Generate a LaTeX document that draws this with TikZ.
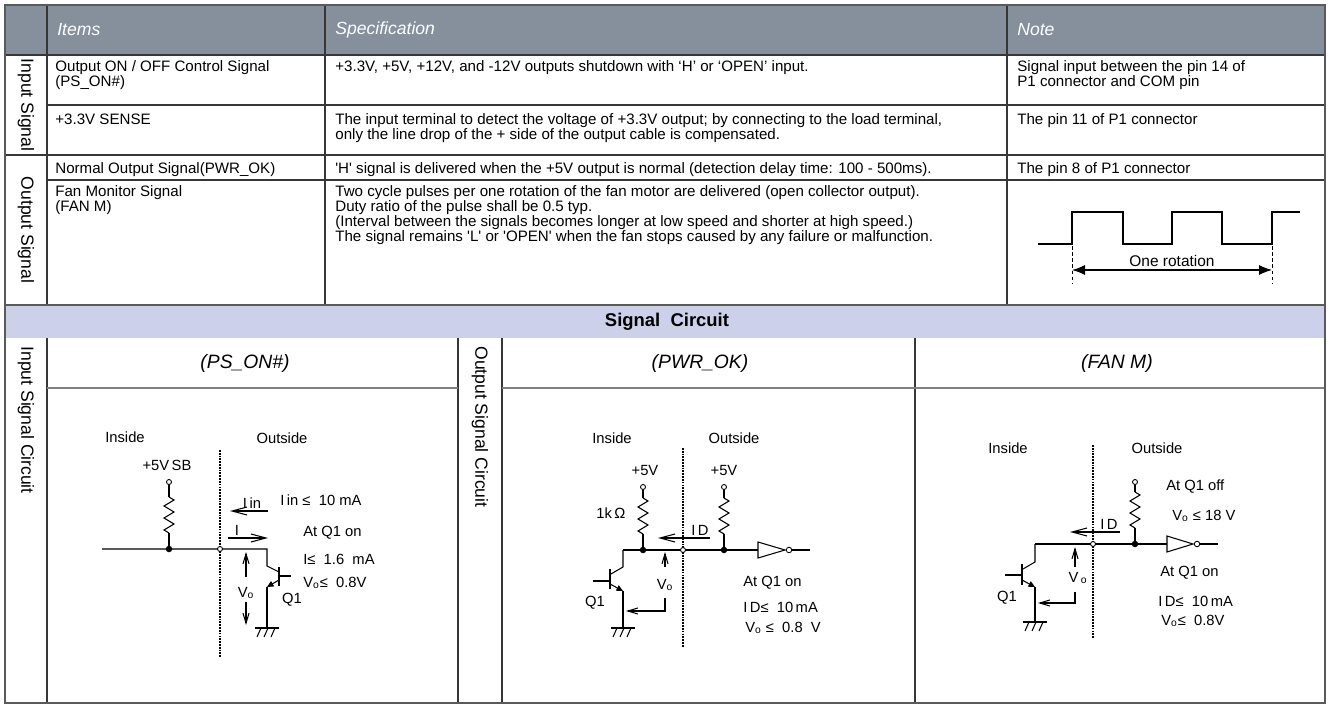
\documentclass[tikz,border=0pt]{standalone}
\usepackage{fontspec}
\setmainfont{Liberation Sans}
\usetikzlibrary{arrows.meta}
\definecolor{headgray}{RGB}{133,144,156}
\definecolor{bandblue}{RGB}{204,208,232}
\definecolor{linegray}{RGB}{55,55,55}
\definecolor{framegray}{RGB}{90,90,90}
\begin{document}
\begin{tikzpicture}[
  x=0.02cm, y=-0.02cm,
  rule/.style={draw=linegray, line width=0.6pt},
  lightrule/.style={draw=gray, line width=0.6pt},
  cell/.style={anchor=north west, inner sep=0pt, align=left, font=\fontsize{8.6}{8.5}\selectfont},
  head/.style={anchor=west, inner sep=0pt, text=white, font=\fontsize{10}{12}\selectfont\itshape},
  side/.style={rotate=-90, inner sep=0pt, font=\fontsize{10}{12}\selectfont},
  ctitle/.style={inner sep=0pt, font=\fontsize{11}{13}\selectfont\itshape},
  lbl/.style={inner sep=0pt, font=\fontsize{8.4}{10}\selectfont},
  note/.style={lbl, anchor=west},
  wire/.style={line width=0.6pt},
  bound/.style={line width=0.9pt, dash pattern=on 1pt off 0.6pt},
  term/.style={circle, draw, fill=white, line width=0.5pt, inner sep=0pt, minimum size=0.1cm},
  joint/.style={circle, fill, inner sep=0pt, minimum size=0.13cm},
  cur/.style={wire, -{Straight Barb[length=0.3cm, width=0.16cm]}},
  volt/.style={wire, -{Straight Barb[length=0.2cm, width=0.12cm]}},
  emit/.style={wire, -{Triangle[length=0.13cm, width=0.12cm]}},
  resistor/.pic={\draw[wire] (0,0) -- (5,3) -- (-5,9) -- (5,15) -- (-5,21) -- (5,27) -- (-5,33) -- (0,36);},
  ground/.pic={\draw[wire] (-12,0) -- (12,0);
    \foreach \h in {-6,1,8} \draw[wire] (\h,0) -- (\h-4,9);}
]
% page, bands and rules
\fill[white] (0,0) rectangle (1330,706);
\useasboundingbox (0,0) rectangle (1330,706);
\fill[headgray] (5,5) rectangle (1325,55);
\fill[bandblue] (5,305) rectangle (1325,338);
\draw[rule] (5,55) -- (1325,55) (5,155) -- (1325,155)
  (47,105) -- (1325,105) (47,180) -- (1325,180);
\draw[rule] (47,5) -- (47,305) (325,5) -- (325,305) (1007,5) -- (1007,305);
\draw[rule] (47,338) -- (47,703) (458,338) -- (458,703)
  (502,338) -- (502,703) (915,338) -- (915,703);
\draw[lightrule] (47,388) -- (458,388) (502,388) -- (1325,388);
\draw[draw=framegray, line width=1.1pt] (5,305) -- (1325,305);
\draw[draw=framegray, line width=1.1pt] (5,5) rectangle (1325,703);

% header
\node[head] (hItems) at (57,30) {Items};
\node[head] (hSpec) at (335,30) {Specification};
\node[head] (hNote) at (1017,30) {Note};

% side labels
\node[side] (sIn) at (26,105) {Input Signal};
\node[side] (sOut) at (26,230) {Output Signal};
\node[side, anchor=west] (sInC) at (26,346) {Input Signal Circuit};
\node[side, anchor=west] (sOutC) at (480,346) {Output Signal Circuit};

% table rows
\node[cell] (iPs) at (55,60.5) {Output ON / OFF Control Signal\\(PS\_ON\#)};
\node[cell] (sPs) at (335,60.5) {+3.3V, +5V, +12V, and -12V outputs shutdown with ‘H’ or ‘OPEN’ input.};
\node[cell] (nPs) at (1017,60.5) {Signal input between the pin 14 of\\P1 connector and COM pin};
\node[cell] (iSen) at (55,113.5) {+3.3V SENSE};
\node[cell] (sSen) at (335,113.5) {The input terminal to detect the voltage of +3.3V output; by connecting to the load terminal,\\only the line drop of the + side of the output cable is compensated.};
\node[cell] (nSen) at (1017,113.5) {The pin 11 of P1 connector};
\node[cell] (iPwr) at (55,162.5) {Normal Output Signal(PWR\_OK)};
\node[cell] (sPwr) at (335,162.5) {\textquotesingle H\textquotesingle{} signal is delivered when the +5V output is normal (detection delay time: 100 - 500ms).};
\node[cell] (nPwr) at (1017,162.5) {The pin 8 of P1 connector};
\node[cell] (iFan) at (55,185.5) {Fan Monitor Signal\\(FAN M)};
\node[cell] (sFan) at (335,185.5) {Two cycle pulses per one rotation of the fan motor are delivered (open collector output).\\Duty ratio of the pulse shall be 0.5 typ.\\(Interval between the signals becomes longer at low speed and shorter at high speed.)\\The signal remains \textquotesingle L\textquotesingle{} or \textquotesingle OPEN\textquotesingle{} when the fan stops caused by any failure or malfunction.};

% fan pulse train
\draw[line width=0.9pt] (1038,244) -- (1072,244) -- (1072,212) -- (1123,212) -- (1123,244)
  -- (1172,244) -- (1172,212) -- (1222,212) -- (1222,244) -- (1272,244) -- (1272,212) -- (1300,212);
\coordinate (rotA) at (1072,270);
\coordinate (rotB) at (1272,270);
\draw[line width=0.5pt, dash pattern=on 2pt off 1.5pt] (1072,246) -- (1072,284) (1272,246) -- (1272,284);
\draw[wire, {Latex[length=0.26cm,width=0.2cm]}-{Latex[length=0.26cm,width=0.2cm]}] (rotA) -- (rotB);
\node[lbl, font=\fontsize{8.8}{10}\selectfont] (rot) at (1172,261) {One rotation};

% band
\node[inner sep=0pt, font=\fontsize{10.5}{12}\selectfont\bfseries] (band) at (667,322) {Signal\ \ Circuit};

% (PS_ON#) circuit
\node[ctitle] (tPs) at (245,363) {(PS\_ON\#)};
\node[lbl] (psIn) at (125,437) {Inside};
\node[lbl] (psOut) at (282,438) {Outside};
\draw[bound] (220,450) -- (220,657);
\node[lbl] (psSup) at (167,465) {+5V\,SB};
\node[term] (psT) at (169,482) {};
\coordinate (psR) at (169,497);
\coordinate (psN) at (169,549);
\coordinate (psL) at (102,549);
\coordinate (psC) at (267,549);
\draw[wire] (psT) -- (psR);
\pic at (psR) {resistor};
\draw[wire] (169,533) -- (psN);
\draw[wire] (psL) -- (psC) -- (267,566) -- (279,572);
\draw[wire] (279,567) -- (279,586) (279,576) -- (291,576);
\draw[emit] (279,580) -- (267,587);
\draw[wire] (267,587) -- (267,628);
\pic at (267,628) {ground};
\node[joint] (psJ) at (psN) {};
\node[term] (psO) at (220,549) {};
\draw[cur] (268,511) -- (230,511);
\node[lbl, anchor=south] (psIin) at (252,509) {I\,in};
\draw[cur] (228,538) -- (268,538);
\node[lbl, anchor=south] (psI) at (237,536) {I};
\draw[volt] (246,577) -- (246,552);
\node[lbl] (psV) at (246,593) {V\textsubscript{o}};
\draw[volt] (246,602) -- (246,625);
\node[note] (psA) at (280,500) {I\,in ≤ \ 10 mA};
\node[note] (psB) at (303,533) {At Q1 on};
\node[note] (psC1) at (303,559) {I≤ \ 1.6 \ mA};
\node[note] (psD) at (303,583) {V\textsubscript{o}≤ \ 0.8V};
\node[lbl] (psQ) at (292,600) {Q1};

% (PWR_OK) circuit
\node[ctitle] (tPw) at (700,363) {(PWR\_OK)};
\node[lbl] (pwIn) at (612,438) {Inside};
\node[lbl] (pwOut) at (734,438) {Outside};
\draw[bound] (683,448) -- (683,647);
\node[lbl] (pwS1) at (645,470) {+5V};
\node[lbl] (pwS2) at (724,470) {+5V};
\node[term] (pwT1) at (643,487) {};
\node[term] (pwT2) at (724,487) {};
\draw[wire] (pwT1) -- (643,498) (pwT2) -- (724,498);
\pic at (643,498) {resistor};
\pic at (724,498) {resistor};
\draw[wire] (643,534) -- (643,550) (724,534) -- (724,550);
\node[lbl] (pwR) at (611,513) {1k\,Ω};
\draw[wire] (623,550) -- (758,550);
\draw[wire] (758,542) -- (785,550) -- (758,558) -- cycle;
\node[term, minimum size=0.11cm] (pwBub) at (789,550) {};
\draw[wire] (pwBub) -- (810,550);
\draw[wire] (623,550) -- (623,567) -- (611,574);
\draw[wire] (610,569) -- (610,589) (593,581) -- (610,581);
\draw[emit] (610,584) -- (623,591);
\draw[wire] (623,591) -- (623,628);
\pic at (623,628) {ground};
\node[joint] (pwJ1) at (643,550) {};
\node[joint] (pwJ2) at (724,550) {};
\node[term] (pwO) at (683,550) {};
\draw[cur] (710,538) -- (658,538);
\node[lbl, anchor=south] (pwID) at (700,536) {I\,D};
\draw[volt] (665,567) -- (665,552);
\node[lbl] (pwV) at (665,585) {V\textsubscript{o}};
\draw[volt] (665,598) -- (665,611) -- (626,611);
\node[note] (pwA) at (743,583) {At Q1 on};
\node[note] (pwB) at (743,607) {I\,D≤ \ 10\,mA};
\node[note] (pwC) at (745,628) {V\textsubscript{o} ≤ \ 0.8 \ V};
\node[lbl] (pwQ) at (595,603) {Q1};

% (FAN M) circuit
\node[ctitle] (tFan) at (1117,363) {(FAN M)};
\node[lbl] (fnIn) at (1008,448) {Inside};
\node[lbl] (fnOut) at (1157,448) {Outside};
\draw[bound] (1093,445) -- (1093,638);
\node[term] (fnT) at (1135,482) {};
\draw[wire] (fnT) -- (1135,492);
\pic at (1135,492) {resistor};
\draw[wire] (1135,528) -- (1135,544);
\draw[wire] (1035,544) -- (1167,544);
\draw[wire] (1167,536) -- (1193,544) -- (1167,552) -- cycle;
\node[term, minimum size=0.11cm] (fnBub) at (1197,544) {};
\draw[wire] (fnBub) -- (1218,544);
\draw[wire] (1035,544) -- (1035,562) -- (1023,569);
\draw[wire] (1022,564) -- (1022,585) (1005,575) -- (1022,575);
\draw[emit] (1022,580) -- (1035,587);
\draw[wire] (1035,587) -- (1035,622);
\pic at (1035,622) {ground};
\node[joint] (fnJ) at (1135,544) {};
\node[term] (fnO) at (1093,544) {};
\draw[cur] (1120,532) -- (1070,532);
\node[lbl, anchor=south] (fnID) at (1109,530) {I\,D};
\draw[volt] (1075,567) -- (1075,547);
\node[lbl] (fnV) at (1078,578) {V\,\textsubscript{o}};
\draw[volt] (1075,592) -- (1075,603) -- (1038,603);
\node[note] (fnA) at (1166,487) {At Q1 off};
\node[note] (fnB) at (1172,516) {V\textsubscript{o} ≤ 18 V};
\node[note] (fnC) at (1160,573) {At Q1 on};
\node[note] (fnD) at (1158,601) {I\,D≤ \ 10\,mA};
\node[note] (fnE) at (1161,621) {V\textsubscript{o}≤ \ 0.8V};
\node[lbl] (fnQ) at (1007,598) {Q1};
\end{tikzpicture}
\end{document}
